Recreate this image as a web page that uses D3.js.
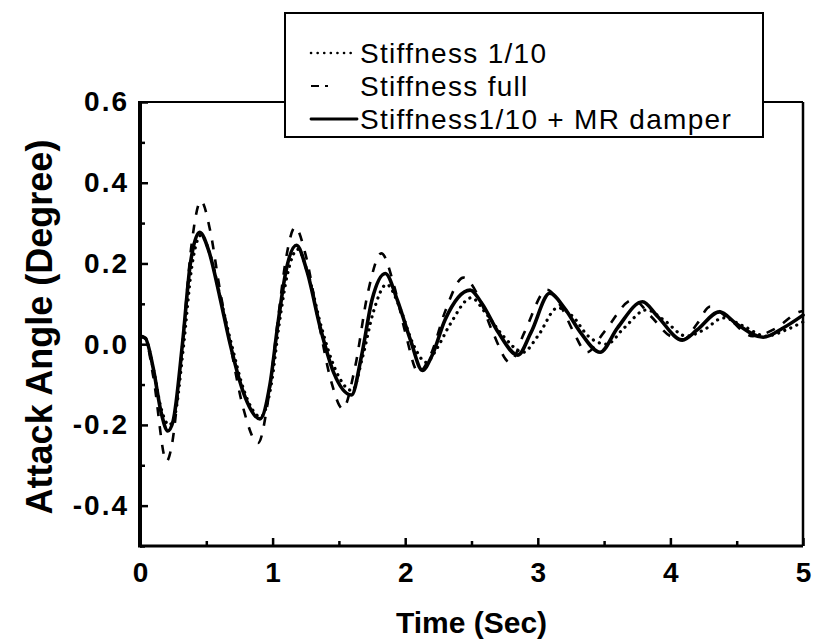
<!DOCTYPE html>
<html>
	<head>
		<meta charset="utf-8">
		<title>Attack Angle</title>

		<!--libs-->
		<script src="https://d3js.org/d3.v7.min.js"></script>

		<!--css-->
		<style>
			body {
				margin: 0;
				background: #fff;
			}

			text {
				font-family: "Liberation Sans", Arial, sans-serif;
				fill: #000;
			}

			.tick-label {
				font-size: 28px;
				font-weight: bold;
			}

			.y-label {
				letter-spacing: 2px;
			}

			.axis-title {
				font-weight: bold;
			}

			.legend-label {
				font-size: 28px;
				letter-spacing: 1.3px;
			}

			.series {
				fill: none;
				stroke: #000;
			}
		</style>
	</head>
	<body>

		<div class="chart"></div>

		<script>
			// series: [time (s), attack angle (deg)]
			var stiffTenth = [
				[0, 0.02], [0.04, 0.015], [0.1, -0.06], [0.16, -0.16], [0.22, -0.2], [0.26, -0.18],
				[0.33, 0.0], [0.39, 0.19], [0.46, 0.27], [0.53, 0.22], [0.61, 0.11], [0.69, 0.0],
				[0.79, -0.12], [0.91, -0.18], [0.99, -0.1], [1.05, 0.05], [1.11, 0.17], [1.19, 0.235],
				[1.27, 0.17], [1.37, 0.04], [1.47, -0.06], [1.6, -0.115], [1.68, -0.03], [1.76, 0.08],
				[1.86, 0.148], [1.96, 0.09], [2.06, 0.0], [2.16, -0.045], [2.24, -0.01], [2.34, 0.05],
				[2.5, 0.115], [2.6, 0.08], [2.74, 0.02], [2.89, -0.02], [3.0, 0.02], [3.15, 0.09],
				[3.26, 0.07], [3.38, 0.02], [3.52, 0.0], [3.65, 0.04], [3.82, 0.085], [3.95, 0.06],
				[4.12, 0.02], [4.25, 0.035], [4.4, 0.065], [4.55, 0.045], [4.72, 0.02], [4.87, 0.035],
				[5.0, 0.055]
			];

			var stiffFull = [
				[0, 0.02], [0.04, 0.015], [0.1, -0.08], [0.2, -0.29], [0.24, -0.25], [0.32, 0.0],
				[0.39, 0.25], [0.46, 0.355], [0.53, 0.28], [0.6, 0.14], [0.68, 0.0], [0.78, -0.16],
				[0.89, -0.245], [0.97, -0.13], [1.04, 0.06], [1.1, 0.21], [1.17, 0.29], [1.25, 0.22],
				[1.35, 0.05], [1.44, -0.09], [1.53, -0.16], [1.62, -0.06], [1.72, 0.13], [1.82, 0.225],
				[1.92, 0.14], [2.0, 0.03], [2.1, -0.07], [2.2, -0.02], [2.3, 0.08], [2.44, 0.165],
				[2.55, 0.12], [2.66, 0.03], [2.79, -0.045], [2.9, 0.03], [3.07, 0.135], [3.18, 0.09],
				[3.27, 0.03], [3.37, -0.02], [3.5, 0.03], [3.72, 0.11], [3.85, 0.07], [4.0, 0.02],
				[4.1, 0.012], [4.2, 0.05], [4.3, 0.093], [4.45, 0.06], [4.62, 0.02], [4.8, 0.04],
				[4.97, 0.08], [5.0, 0.082]
			];

			var stiffTenthMR = [
				[0, 0.02], [0.04, 0.015], [0.1, -0.06], [0.16, -0.17], [0.21, -0.215], [0.25, -0.19],
				[0.32, 0.0], [0.38, 0.2], [0.45, 0.277], [0.52, 0.23], [0.6, 0.12], [0.68, 0.0],
				[0.78, -0.12], [0.905, -0.185], [0.98, -0.1], [1.04, 0.05], [1.1, 0.18], [1.18, 0.245],
				[1.26, 0.18], [1.36, 0.04], [1.46, -0.07], [1.595, -0.126], [1.67, -0.03], [1.75, 0.11],
				[1.85, 0.175], [1.94, 0.11], [2.04, 0.01], [2.13, -0.065], [2.2, -0.03], [2.3, 0.06],
				[2.49, 0.134], [2.58, 0.1], [2.7, 0.03], [2.85, -0.027], [2.95, 0.03], [3.09, 0.126],
				[3.2, 0.09], [3.32, 0.03], [3.47, -0.02], [3.6, 0.04], [3.79, 0.105], [3.9, 0.07],
				[4.09, 0.01], [4.2, 0.035], [4.37, 0.08], [4.5, 0.05], [4.7, 0.017], [4.85, 0.04],
				[5.0, 0.072]
			];

			var seriesNames = ["Stiffness 1/10", "Stiffness full", "Stiffness1/10 + MR damper"];
			var xTicks = [0, 1, 2, 3, 4, 5];
			var xMinorTicks = [0.5, 1.5, 2.5, 3.5, 4.5];
			var yTicks = [-0.4, -0.2, 0.0, 0.2, 0.4, 0.6];
			var yMinorTicks = [-0.5, -0.3, -0.1, 0.1, 0.3, 0.5];
			var xTitle = "Time (Sec)";
			var yTitle = "Attack Angle (Degree)";

			var width = 821,
				height = 643;

			var margin = {top: 102, right: 18, bottom: 97, left: 140},
				plotW = width - margin.left - margin.right,
				plotH = height - margin.top - margin.bottom;

			var svg = d3.select(".chart")
				.append("svg")
				.attr("width", width)
				.attr("height", height);

			var g = svg.append("g")
				.attr("transform", "translate(" + margin.left + "," + margin.top + ")");

			var x = d3.scaleLinear().domain([0, 5]).range([0, plotW]);
			var y = d3.scaleLinear().domain([-0.5, 0.6]).range([plotH, 0]);

			// styles per series: dotted, dashed, solid
			var styles = [
				{width: 3.2, dash: "0.1 6.5", cap: "round"},
				{width: 2.6, dash: "9 10", cap: "butt"},
				{width: 3.6, dash: null, cap: "round"}
			];

			var line = d3.line()
				.x(function(d) { return x(d[0]); })
				.y(function(d) { return y(d[1]); })
				.curve(d3.curveMonotoneX);

			// draw dashed first, then dotted, solid on top
			var drawOrder = [1, 0, 2];
			var allSeries = [stiffTenth, stiffFull, stiffTenthMR];
			drawOrder.forEach(function(i) {
				g.append("path")
					.attr("class", "series")
					.attr("d", line(allSeries[i]))
					.attr("stroke-width", styles[i].width)
					.attr("stroke-dasharray", styles[i].dash)
					.attr("stroke-linecap", styles[i].cap)
					.attr("stroke-linejoin", "round");
			});

			// axes with inside ticks
			var xAxis = d3.axisBottom(x).tickValues(xTicks).tickSize(-8).tickPadding(16)
				.tickFormat(function(d) { return d.toFixed(0); });
			var xMinor = d3.axisBottom(x).tickValues(xMinorTicks).tickSize(-5).tickFormat("");
			var yAxis = d3.axisLeft(y).tickValues(yTicks).tickSize(-8).tickPadding(11)
				.tickFormat(function(d) { return d.toFixed(1); });
			var yMinor = d3.axisLeft(y).tickValues(yMinorTicks).tickSize(-5).tickFormat("");

			function styleAxis(sel) {
				sel.select(".domain").remove();
				sel.selectAll(".tick line").attr("stroke", "#000").attr("stroke-width", 2.5);
				sel.selectAll(".tick text").attr("class", "tick-label").attr("font-size", null)
					.attr("font-family", null);
			}

			g.append("g").attr("transform", "translate(0," + plotH + ")").call(xAxis).call(styleAxis);
			g.append("g").attr("transform", "translate(0," + plotH + ")").call(xMinor).call(styleAxis);
			g.append("g").call(yAxis).call(styleAxis)
				.selectAll(".tick text").classed("y-label", true);
			g.append("g").call(yMinor).call(styleAxis);

			// frame
			g.append("line").attr("x1", 0).attr("x2", plotW).attr("y1", 0).attr("y2", 0)
				.attr("stroke", "#000").attr("stroke-width", 2);
			g.append("line").attr("x1", plotW).attr("x2", plotW).attr("y1", 0).attr("y2", plotH)
				.attr("stroke", "#000").attr("stroke-width", 2.5);
			g.append("line").attr("x1", 0).attr("x2", plotW).attr("y1", plotH).attr("y2", plotH)
				.attr("stroke", "#000").attr("stroke-width", 3);
			g.append("line").attr("x1", 0).attr("x2", 0).attr("y1", -1).attr("y2", plotH + 1.5)
				.attr("stroke", "#000").attr("stroke-width", 4);

			// axis titles
			svg.append("text")
				.attr("class", "axis-title")
				.attr("font-size", 30)
				.attr("x", margin.left + plotW / 2)
				.attr("y", 633)
				.attr("text-anchor", "middle")
				.text(xTitle);

			svg.append("text")
				.attr("class", "axis-title")
				.attr("font-size", 36)
				.attr("transform", "translate(52,327) rotate(-90)")
				.attr("text-anchor", "middle")
				.text(yTitle);

			// legend
			var legend = svg.append("g").attr("transform", "translate(285,13)");
			legend.append("rect")
				.attr("width", 478).attr("height", 124)
				.attr("fill", "#fff").attr("stroke", "#000").attr("stroke-width", 2);

			var rowY = [40, 73, 106];
			seriesNames.forEach(function(name, i) {
				legend.append("line")
					.attr("x1", 26).attr("x2", 72)
					.attr("y1", rowY[i]).attr("y2", rowY[i])
					.attr("stroke", "#000")
					.attr("stroke-width", styles[i].width * 0.8)
					.attr("stroke-dasharray", i == 1 ? "8 6 3 30" : styles[i].dash)
					.attr("stroke-linecap", styles[i].cap);
				legend.append("text")
					.attr("class", "legend-label")
					.attr("x", 75)
					.attr("y", rowY[i] + 10)
					.text(name);
			});
		</script>

	</body>
</html>
